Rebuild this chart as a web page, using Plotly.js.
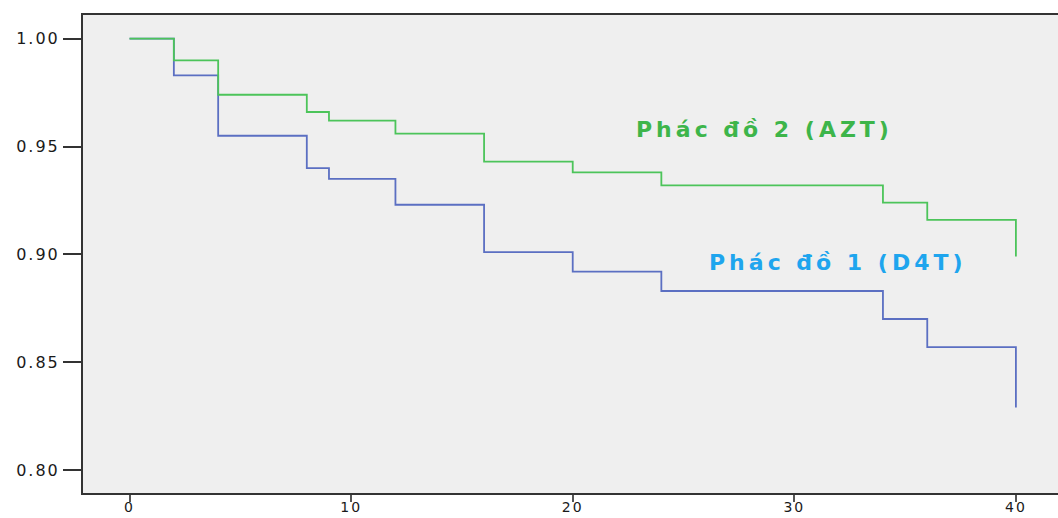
<!DOCTYPE html>
<html>
<head>
<meta charset="utf-8">
<script src="https://cdn.plot.ly/plotly-3.0.1.min.js"></script>
<style>
  html, body { margin: 0; padding: 0; background: #ffffff; }
  #chart { width: 1058px; height: 518px; }
  .xtick text, .ytick text { letter-spacing: 2px; }
  .annotation-text { letter-spacing: 4px; }
</style>
</head>
<body>
<div id="chart"></div>
<script>
// Survival times (months) at which steps occur
const timeAZT = [0, 2, 4, 8, 9, 12, 16, 20, 24, 34, 36, 40];
const survAZT = [1.000, 0.990, 0.974, 0.966, 0.962, 0.956, 0.943, 0.938, 0.932, 0.924, 0.916, 0.899];
const timeD4T = [0, 2, 4, 8, 9, 12, 16, 20, 24, 34, 36, 40];
const survD4T = [1.000, 0.983, 0.955, 0.940, 0.935, 0.923, 0.901, 0.892, 0.883, 0.870, 0.857, 0.829];
const xTicks = [0, 10, 20, 30, 40];
const yTicks = [0.80, 0.85, 0.90, 0.95, 1.00];
const labelAZT = 'Phác đồ 2 (AZT)';
const labelD4T = 'Phác đồ 1 (D4T)';

const traces = [
  {
    x: timeD4T, y: survD4T, type: 'scatter', mode: 'lines',
    line: { shape: 'hv', color: '#5b6fc2', width: 1.8 },
    name: labelD4T, hoverinfo: 'x+y'
  },
  {
    x: timeAZT, y: survAZT, type: 'scatter', mode: 'lines',
    line: { shape: 'hv', color: '#4cc45a', width: 1.8 },
    name: labelAZT, hoverinfo: 'x+y'
  }
];

const layout = {
  width: 1058, height: 518,
  margin: { l: 83, r: 0, t: 15, b: 25 },
  paper_bgcolor: '#ffffff',
  plot_bgcolor: '#efefef',
  showlegend: false,
  font: { family: 'DejaVu Sans, Arial, sans-serif', color: '#1a1a1a', size: 15 },
  xaxis: {
    range: [-2.1, 41.9],
    tickvals: xTicks,
    ticktext: xTicks.map(String),
    ticks: 'outside', ticklen: 7, tickwidth: 2, tickcolor: '#555555',
    ticklabelstandoff: -7,
    showline: true, linecolor: '#333333', linewidth: 2, mirror: true,
    showgrid: false, zeroline: false,
    tickfont: { size: 14, color: '#1a1a1a' }
  },
  yaxis: {
    range: [0.7893, 1.0110],
    tickvals: yTicks,
    ticktext: yTicks.map(v => v.toFixed(2)),
    ticks: 'outside', ticklen: 18, tickwidth: 2, tickcolor: '#333333',
    showline: true, linecolor: '#333333', linewidth: 2, mirror: false,
    showgrid: false, zeroline: false,
    tickfont: { size: 16, color: '#1a1a1a' }
  },
  annotations: [
    {
      x: 28.65, y: 0.9577, xref: 'x', yref: 'y', text: labelAZT, showarrow: false,
      font: { family: 'DejaVu Sans, Arial, sans-serif', size: 22, color: '#3db54a', weight: 'bold' }
    },
    {
      x: 31.96, y: 0.8964, xref: 'x', yref: 'y', text: labelD4T, showarrow: false,
      font: { family: 'DejaVu Sans, Arial, sans-serif', size: 22, color: '#1ea5ee', weight: 'bold' }
    }
  ]
};

Plotly.newPlot('chart', traces, layout, { displayModeBar: false, staticPlot: true });
</script>
</body>
</html>
